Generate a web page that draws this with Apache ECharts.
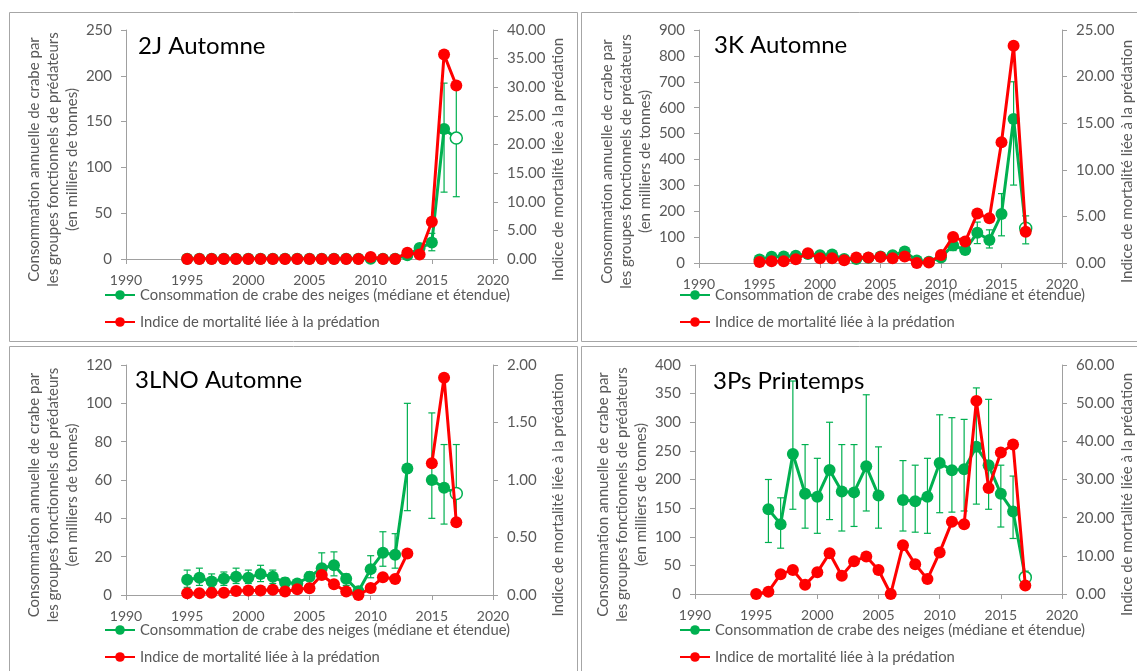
<!DOCTYPE html>
<html><head><meta charset="utf-8">
<script src="https://cdn.jsdelivr.net/npm/echarts@6/dist/echarts.min.js"></script>
<style>html,body{margin:0;padding:0;background:#fff}#c{width:1137px;height:671px}</style>
</head><body><div id="c"></div>
<script>
// ---- data ----
const years = [1995,1996,1997,1998,1999,2000,2001,2002,2003,2004,2005,2006,2007,2008,2009,2010,2011,2012,2013,2014,2015,2016,2017];
const xTicks = [1990,1995,2000,2005,2010,2015,2020];

const titles = ['2J Automne','3K Automne','3LNO Automne','3Ps Printemps'];
const nameCons = 'Consommation de crabe des neiges (médiane et étendue)';
const nameMort = 'Indice de mortalité liée à la prédation';
const leftName = 'Consommation annuelle de crabe par\nles groupes fonctionnels de prédateurs\n(en milliers de tonnes)';

// 2J Automne
const cons2J  = [0.3,0.3,0.3,0.3,0.3,0.3,0.3,0.3,0.3,0.3,0.3,0.3,0.3,0.3,0.3,0.3,0.3,0.3,4,12,18,142,132];
const low2J   = [null,null,null,null,null,null,null,null,null,null,null,null,null,null,null,null,null,null,null,null,9,73,68];
const high2J  = [null,null,null,null,null,null,null,null,null,null,null,null,null,null,null,null,null,null,null,null,28,192,186];
const mort2J  = [0,0,0,0,0,0,0,0,0,0,0,0,0,0,0,0.35,0,0,1.1,0.8,6.5,35.7,30.3];

// 3K Automne
const cons3K  = [14,24,25,28,35,30,33,15,15,20,25,30,44,10,5,21,69,50,117,89,189,556,134];
const low3K   = [8,17,18,20,27,23,25,9,9,13,18,22,34,5,2,13,48,36,75,58,105,301,74];
const high3K  = [20,31,32,36,43,38,41,22,22,27,33,38,54,16,9,30,92,68,158,128,268,700,182];
const mort3K  = [0.1,0.2,0.2,0.4,1.04,0.5,0.5,0.3,0.6,0.6,0.65,0.5,0.7,0.0,0.05,0.86,2.8,2.3,5.3,4.8,12.95,23.3,3.36];

// 3LNO Automne
const cons3LNO = [8,9,7,8.5,9.5,9,11,9.5,6.5,6,9.5,14,15.5,8.5,2,13.5,22,21,66,null,60,56,53];
const low3LNO  = [4,5,4,5,6,6,7,6,4,3,6,9,10,5,1,9,15,14,44,null,40,37,38];
const high3LNO = [13,14,11,12,14,13,15.5,13,9,8,12,22,22.5,11,4,20.5,33,32,100,null,95,78.5,78.5];
const mort3LNO = [0.015,0.015,0.02,0.02,0.035,0.04,0.04,0.045,0.03,0.05,0.058,0.174,0.093,0.03,0,0.06,0.154,0.14,0.36,null,1.145,1.89,0.632];

// 3Ps Printemps
const cons3Ps = [null,148,122,244.5,175,170,216.5,179,177.5,223,172,null,164,162,170,229,216,218,257,225,175,144,29];
const low3Ps  = [null,90,80,148,115,106,130,110,118,145,115,null,110,108,106,142,143,145,157,148,117,97,20];
const high3Ps = [null,200,168,372,261,237,300,261,261,348,257,null,233,225,237,313,308,305,360,340,225,206,40];
const mort3Ps = [0,0.6,5.2,6.3,2.4,5.7,10.7,4.8,8.6,9.8,6.3,0,12.8,7.8,3.9,10.9,18.9,18.3,50.6,27.8,37.1,39.2,2.2];

// axis scales
const leftMax  = [250,900,120,400];
const leftStep = [50,100,20,50];
const rightMax = [40,25,2,60];
const rightStep= [5,5,0.5,10];

// ---- layout / style ----
const F = 'Lato';
const G = '#00b050', R = '#ff0000', AX = '#a0a0a0', LBL = '#595959';
const grids = [
  {left:126, top:30, width:367, height:229},
  {left:699, top:30, width:363, height:233},
  {left:126, top:365, width:367, height:230},
  {left:695, top:365, width:367, height:229}
];
const titlePos = [[138,34],[714,33],[135,368],[713,369]];
const legendPos = [[104,287],[679,287],[104,622],[679,622]];
const panelsData = [
  {cons:cons2J, low:low2J, high:high2J, mort:mort2J},
  {cons:cons3K, low:low3K, high:high3K, mort:mort3K},
  {cons:cons3LNO, low:low3LNO, high:high3LNO, mort:mort3LNO},
  {cons:cons3Ps, low:low3Ps, high:high3Ps, mort:mort3Ps}
];

function errRender(params, api){
  const x = api.value(0), lo = api.value(1), hi = api.value(2);
  const p1 = api.coord([x, lo]), p2 = api.coord([x, hi]);
  const c = 3.5, st = {stroke:G, lineWidth:1.2};
  return {type:'group', children:[
    {type:'line', shape:{x1:p1[0],y1:p1[1],x2:p2[0],y2:p2[1]}, style:st},
    {type:'line', shape:{x1:p1[0]-c,y1:p1[1],x2:p1[0]+c,y2:p1[1]}, style:st},
    {type:'line', shape:{x1:p2[0]-c,y1:p2[1],x2:p2[0]+c,y2:p2[1]}, style:st}
  ]};
}

const xAxis = [], yAxis = [], series = [], legend = [], title = [];
grids.forEach((g,i)=>{
  xAxis.push({type:'value', gridIndex:i, min:1990, max:2020, interval:5,
    axisLine:{show:true, onZero:false, lineStyle:{color:AX, width:1}},
    axisTick:{show:true, length:5, lineStyle:{color:AX}},
    splitLine:{show:false},
    axisLabel:{color:LBL, fontSize:14, fontFamily:F, margin:14, formatter:v=>String(v)}});
  yAxis.push({type:'value', gridIndex:i, position:'left', min:0, max:leftMax[i], interval:leftStep[i],
    axisLine:{show:true, lineStyle:{color:AX}},
    axisTick:{show:true, length:5, lineStyle:{color:AX}},
    splitLine:{show:false},
    axisLabel:{color:LBL, fontSize:15, fontFamily:F, margin:14},
    name:leftName, nameLocation:'middle', nameRotate:90, nameGap:44,
    nameTextStyle:{color:LBL, fontSize:15, fontFamily:F, lineHeight:19, padding:[0,30,0,0]}});
  yAxis.push({type:'value', gridIndex:i, position:'right', min:0, max:rightMax[i], interval:rightStep[i],
    axisLine:{show:true, lineStyle:{color:AX}},
    axisTick:{show:true, length:5, lineStyle:{color:AX}},
    splitLine:{show:false},
    axisLabel:{color:LBL, fontSize:15, fontFamily:F, margin:14, formatter:v=>v.toFixed(2)},
    name:nameMort, nameLocation:'middle', nameRotate:90, nameGap:58,
    nameTextStyle:{color:LBL, fontSize:15, fontFamily:F, padding:[0,30,0,0]}});
  const p = panelsData[i];
  series.push({type:'custom', name:'étendue', xAxisIndex:i, yAxisIndex:2*i, renderItem:errRender, silent:true, z:2,
    data: years.map((y,k)=> p.low[k]==null ? null : [y, p.low[k], p.high[k]]).filter(Boolean)});
  series.push({type:'line', name:nameCons, xAxisIndex:i, yAxisIndex:2*i, z:3,
    symbol:'circle', symbolSize:12, connectNulls:false,
    lineStyle:{color:G, width:3}, itemStyle:{color:G},
    data: years.map((y,k)=>{
      const v = p.cons[k];
      if (v==null) return [y,'-'];
      if (k===years.length-1) return {value:[y,v], itemStyle:{color:'#fff', borderColor:G, borderWidth:1.5}};
      return [y,v];
    })});
  series.push({type:'line', name:nameMort, xAxisIndex:i, yAxisIndex:2*i+1, z:4,
    symbol:'circle', symbolSize:12, connectNulls:false,
    lineStyle:{color:R, width:3}, itemStyle:{color:R},
    data: years.map((y,k)=> p.mort[k]==null ? [y,'-'] : [y,p.mort[k]])});
  legend.push({left:legendPos[i][0], top:legendPos[i][1], orient:'vertical', itemWidth:30, itemHeight:12, itemGap:11,
    data:[nameCons, nameMort], selectedMode:false, padding:0,
    textStyle:{color:LBL, fontSize:14.8, fontFamily:F, lineHeight:16}});
  title.push({text:titles[i], left:titlePos[i][0], top:titlePos[i][1], padding:0,
    textStyle:{color:'#000', fontSize:24, fontWeight:'normal', fontFamily:F}});
});

const chart = echarts.init(document.getElementById('c'), null, {renderer:'canvas'});
chart.setOption({
  animation:false,
  backgroundColor:'#fff',
  grid: grids,
  xAxis, yAxis, series, legend, title,
  graphic:[
    {type:'rect', shape:{x:9.5,y:12.5,width:568,height:329}, style:{fill:'none', stroke:'#a6a6a6', lineWidth:1}},
    {type:'rect', shape:{x:581.5,y:12.5,width:600,height:329}, style:{fill:'none', stroke:'#a6a6a6', lineWidth:1}},
    {type:'rect', shape:{x:9.5,y:346.5,width:568,height:400}, style:{fill:'none', stroke:'#a6a6a6', lineWidth:1}},
    {type:'rect', shape:{x:581.5,y:346.5,width:600,height:400}, style:{fill:'none', stroke:'#a6a6a6', lineWidth:1}}
  ]
});
</script></body></html>
